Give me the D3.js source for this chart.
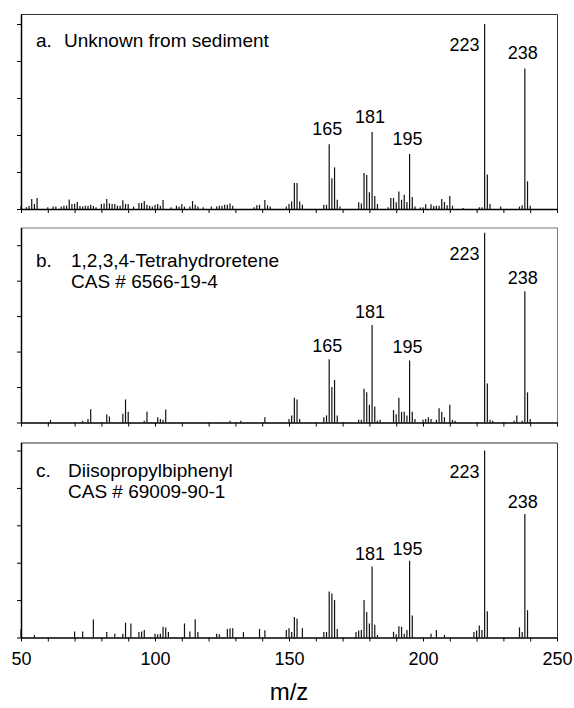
<!DOCTYPE html>
<html>
<head>
<meta charset="utf-8">
<script src="https://cdn.jsdelivr.net/npm/d3@7"></script>
<style>
  body { margin: 0; background: #fff; }
  text { font-family: "Liberation Sans", Arial, sans-serif; fill: #000; }
  .axis path, .axis line { stroke: #000; }
</style>
</head>
<body>
<div id="chart"></div>
<script>
// m/z range and tick labels
const mzDomain = [50, 250]
const mzTickValues = d3.range(50, 251, 10)
const mzLabelValues = [50, 100, 150, 200, 250]
const yTickValues = [0, 20, 40, 60, 80, 100]

// Spectrum a: [m/z, relative intensity]
const peaksA = [
  [50, 1.3], [52, 1], [53, 1.6], [54, 5.4], [55, 2.7], [56, 6], [60, 1], [62, 1.3], [63, 1.3],
  [65, 1.3], [66, 1.8], [67, 1.8], [68, 5.2], [69, 2.7], [70, 2.9], [71, 3.8], [72, 1.6], [73, 1.3],
  [74, 1.8], [75, 1.8], [76, 2.3], [77, 1.6], [78, 1], [80, 2.7], [81, 3], [82, 5.4], [83, 3],
  [84, 2.7], [85, 2.7], [86, 1.8], [87, 1.8], [88, 4.7], [89, 2.7], [90, 2.7], [92, 1.3], [94, 3.2],
  [95, 3.2], [96, 4.3], [97, 2.3], [98, 1.8], [99, 1.3], [100, 2.3], [101, 2.7], [102, 1.8], [103, 4.9],
  [106, 1], [108, 1.8], [109, 1.3], [110, 2.7], [111, 1.3], [113, 1.3], [114, 4.3], [115, 2.3], [116, 1.3],
  [118, 1], [121, 1.3], [123, 1.3], [124, 1.8], [125, 1.8], [126, 2.3], [127, 2.3], [128, 3], [129, 1.8],
  [137, 1], [138, 2], [139, 2.3], [141, 4.9], [142, 2], [143, 1.3], [149, 1.3], [150, 2.7], [151, 4],
  [152, 14], [153, 14], [154, 4], [155, 2.3], [163, 2.3], [164, 2.3], [165, 35], [166, 16.6], [167, 22.5],
  [168, 5], [169, 1.3], [176, 3.6], [177, 3], [178, 19.5], [179, 18.4], [180, 9], [181, 41.6], [182, 7],
  [183, 2.7], [187, 1], [188, 6], [189, 6], [190, 3.6], [191, 9.5], [192, 5], [193, 7.7], [194, 3.8],
  [195, 29.7], [196, 6.5], [197, 1.3], [199, 0.8], [200, 1], [201, 2.5], [203, 2.5], [204, 1.6], [205, 1.8],
  [206, 1.8], [207, 5.4], [208, 3.8], [209, 2], [210, 7], [211, 1.8], [215, 0.5], [221, 1], [222, 1],
  [223, 100], [224, 18.7], [225, 2.7], [229, 1.3], [236, 1.3], [237, 2], [238, 76], [239, 15], [240, 1.8]
]

// Spectrum b
const peaksB = [
  [61, 1.5], [73, 1], [75, 2], [76, 7.5], [82, 4.5], [83, 3.4], [88, 5], [89, 13], [90, 6], [96, 1],
  [97, 6], [101, 3], [102, 2], [103, 1.5], [104, 7.3], [128, 1], [132, 1], [141, 3], [150, 2], [151, 4],
  [152, 14], [153, 13], [154, 2], [163, 3], [164, 4], [165, 35.7], [166, 20], [167, 24], [168, 4],
  [176, 1.5], [177, 1.5], [178, 19], [179, 17], [180, 10], [181, 55], [182, 9], [183, 1], [184, 1.5],
  [189, 7], [190, 4.7], [191, 14], [192, 6], [193, 6], [194, 4], [195, 35], [196, 6], [197, 2],
  [200, 1.5], [201, 2], [202, 3], [203, 2], [205, 1.5], [206, 8], [207, 6], [208, 3], [210, 10],
  [211, 1.5], [212, 1], [223, 107], [224, 22], [225, 1.5], [226, 1], [234, 1], [235, 4], [237, 1],
  [238, 74], [239, 17], [240, 2]
]

// Spectrum c
const peaksC = [
  [50, 4.4], [55, 1.4], [70, 3.2], [73, 3.2], [77, 9.6], [82, 2.9], [85, 2], [88, 2], [89, 7.9], [91, 7.5],
  [94, 2.9], [95, 3.2], [96, 4], [100, 2], [101, 1.8], [102, 2], [103, 5.7], [104, 5.4], [105, 2.9],
  [111, 7.5], [113, 3.2], [115, 9.8], [116, 2.9], [123, 2], [124, 1.8], [127, 4.6], [128, 5], [129, 5],
  [133, 2.9], [139, 4.6], [141, 3.9], [149, 4], [150, 5], [151, 3], [152, 11], [153, 10], [155, 5],
  [163, 3], [164, 3], [165, 24.6], [166, 23.5], [167, 20], [168, 4.5], [175, 3], [176, 3.7], [177, 4],
  [178, 20], [179, 13.6], [180, 7.5], [181, 38], [182, 6.8], [183, 1.4], [189, 3], [190, 1.8], [191, 6],
  [192, 5.7], [193, 2], [194, 4], [195, 41], [196, 11.8], [203, 2], [205, 4], [208, 1.4], [219, 3],
  [220, 3.7], [221, 6.4], [222, 4], [223, 100], [224, 14], [236, 5.4], [237, 3], [238, 66], [239, 14.6]
]

// Labelled ions per spectrum
const labelsA = [165, 181, 195, 223, 238]
const labelsB = [165, 181, 195, 223, 238]
const labelsC = [181, 195, 223, 238]

// Titles
const titlesA = ['a.', 'Unknown from sediment']
const titlesB = ['b.', '1,2,3,4-Tetrahydroretene', 'CAS # 6566-19-4']
const titlesC = ['c.', 'Diisopropylbiphenyl', 'CAS # 69009-90-1']

const width = 574
const height = 708

const panels = [
  { peaks: peaksA, labels: labelsA, titles: titlesA, top: 14, base: 209, yMax: 105.4, nameX: 64, titleY: 46.7, labelGap: 9, frame: '#333' },
  { peaks: peaksB, labels: labelsB, titles: titlesB, top: 227.5, base: 422.5, yMax: 110, nameX: 71, titleY: 266.5, labelGap: 7.5, frame: '#777' },
  { peaks: peaksC, labels: labelsC, titles: titlesC, top: 442.5, base: 637.5, yMax: 104.3, nameX: 68, titleY: 476.5, labelGap: 6, frame: '#333' }
]

const x = d3.scaleLinear()
  .domain(mzDomain)
  .range([21, 557])

const svg = d3.select('#chart')
  .append('svg')
  .attr('width', width)
  .attr('height', height)
  .attr('viewBox', [0, 0, width, height])

panels.forEach((p, i) => {
  const y = d3.scaleLinear()
    .domain([0, p.yMax])
    .range([p.base, p.top])

  const g = svg.append('g').attr('class', 'panel')

  // frame: top and right edges
  g.append('path')
    .attr('d', `M${x(mzDomain[0])},${p.top + 0.5}H${x(mzDomain[1]) + 0.5}V${p.base}`)
    .attr('fill', 'none')
    .attr('stroke', p.frame)
    .attr('stroke-width', 1)

  // peaks
  g.append('g')
    .selectAll('line')
    .data(p.peaks)
    .join('line')
    .attr('x1', d => x(d[0]))
    .attr('x2', d => x(d[0]))
    .attr('y1', p.base)
    .attr('y2', d => y(d[1]))
    .attr('stroke', '#111')
    .attr('stroke-width', 1.2)

  // x axis
  const xAxis = d3.axisBottom(x)
    .tickValues(mzTickValues)
    .tickSize(4)
    .tickSizeOuter(0)
    .tickPadding(11)
    .tickFormat(d => (i === 2 && mzLabelValues.includes(d)) ? d : '')

  g.append('g')
    .attr('class', 'axis axis--x')
    .attr('transform', `translate(0, ${p.base})`)
    .call(xAxis)
    .call(a => a.select('.domain').attr('stroke-width', 1.5))
    .call(a => a.selectAll('.tick text').attr('font-size', 18).attr('font-family', '"Liberation Sans", Arial, sans-serif'))

  // y axis, no labels
  const yAxis = d3.axisLeft(y)
    .tickValues(yTickValues)
    .tickSize(4)
    .tickSizeOuter(0)
    .tickFormat('')

  g.append('g')
    .attr('class', 'axis axis--y')
    .attr('transform', `translate(${x(mzDomain[0])}, 0)`)
    .call(yAxis)
    .call(a => a.select('.domain').attr('stroke-width', 1.5))

  // titles
  const t = g.append('g').attr('font-size', 19)
  t.append('text')
    .attr('x', 36)
    .attr('y', p.titleY)
    .text(p.titles[0])
  t.append('text')
    .attr('x', p.nameX)
    .attr('y', p.titleY)
    .text(p.titles[1])
  if (p.titles[2]) {
    t.append('text')
      .attr('x', p.nameX)
      .attr('y', p.titleY + 21)
      .text(p.titles[2])
  }

  // peak labels
  const lookup = new Map(p.peaks)
  g.append('g')
    .attr('font-size', 18)
    .selectAll('text')
    .data(p.labels)
    .join('text')
    .attr('text-anchor', d => d === 223 ? 'end' : 'middle')
    .attr('x', d => d === 223 ? x(d) - 5 : x(d) - 2)
    .attr('y', d => d === 223 ? y(lookup.get(d)) + 27 : y(lookup.get(d)) - p.labelGap)
    .text(d => d)
})

// x axis title
svg.append('text')
  .attr('x', (x(mzDomain[0]) + x(mzDomain[1])) / 2)
  .attr('y', 700)
  .attr('text-anchor', 'middle')
  .attr('font-size', 24)
  .text('m/z')
</script>
</body>
</html>
